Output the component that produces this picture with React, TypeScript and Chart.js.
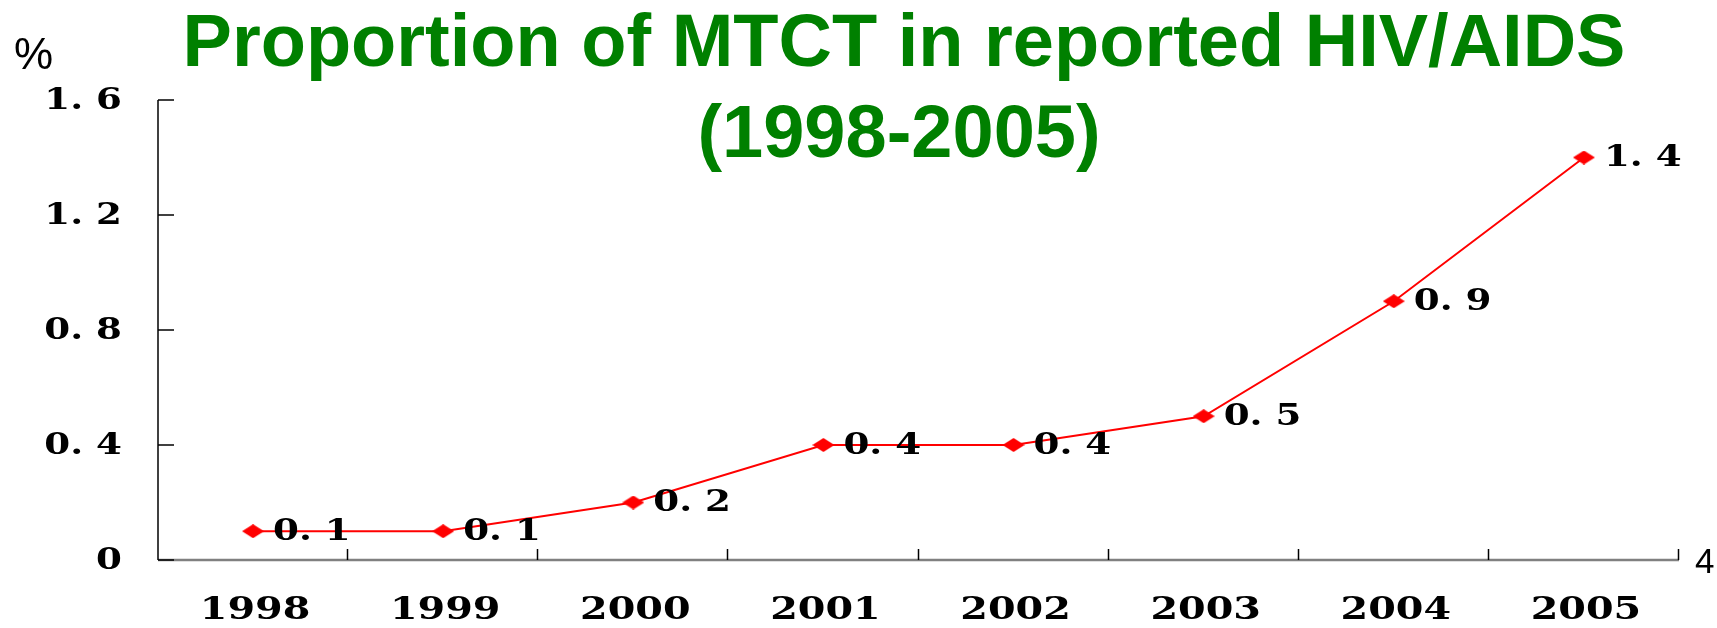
import React, { useEffect, useRef } from "react";
import { Chart, registerables } from "chart.js";

Chart.register(...registerables);

const years = ["1998", "1999", "2000", "2001", "2002", "2003", "2004", "2005"];
const mtctShare = [0.1, 0.1, 0.2, 0.4, 0.4, 0.5, 0.9, 1.4];
const yTickValues = [0, 0.4, 0.8, 1.2, 1.6];
const titleLines = ["Proportion of MTCT in reported HIV/AIDS", "(1998-2005)"];
const unitLabel = "%";
const cornerLabel = "4";

const SERIF = "bold 30px 'DejaVu Serif'";
const SERIF_X = "bold 32px 'DejaVu Serif'";
const STRETCH = 1.24;

function fmt(v: number): string {
  if (v === 0) return "0";
  return v.toFixed(1).replace(".", ". ");
}

function drawWide(
  ctx: CanvasRenderingContext2D,
  text: string,
  x: number,
  y: number,
  align: "left" | "right" | "center",
  font: string
) {
  ctx.save();
  ctx.font = font;
  ctx.textBaseline = "middle";
  ctx.textAlign = "left";
  const w = ctx.measureText(text).width * STRETCH;
  let left = x;
  if (align === "right") left = x - w;
  if (align === "center") left = x - w / 2;
  ctx.translate(left, y);
  ctx.scale(STRETCH, 1);
  ctx.fillStyle = "#000";
  ctx.fillText(text, 0, 0);
  ctx.restore();
}

function makeDiamond(): HTMLCanvasElement {
  const c = document.createElement("canvas");
  c.width = 22;
  c.height = 14;
  const g = c.getContext("2d")!;
  g.fillStyle = "#ff0000";
  g.beginPath();
  g.moveTo(11, 0);
  g.lineTo(22, 7);
  g.lineTo(11, 14);
  g.lineTo(0, 7);
  g.closePath();
  g.fill();
  return c;
}

const decorPlugin = {
  id: "decor",
  beforeDatasetsDraw(chart: any) {
    const { ctx, chartArea: a, scales } = chart;
    const x = scales.x;
    const y = scales.y;
    ctx.save();
    ctx.strokeStyle = "#808080";
    ctx.lineWidth = 2.5;
    ctx.beginPath();
    ctx.moveTo(a.left, a.bottom);
    ctx.lineTo(a.right, a.bottom);
    ctx.stroke();
    const half = (x.getPixelForValue(1) - x.getPixelForValue(0)) / 2;
    ctx.strokeStyle = "#000";
    ctx.lineWidth = 1.5;
    for (let i = 0; i < years.length; i++) {
      const bx = Math.round(x.getPixelForValue(i) + half) - 0.5;
      ctx.beginPath();
      ctx.moveTo(bx, a.bottom - 11);
      ctx.lineTo(bx, a.bottom);
      ctx.stroke();
    }
    ctx.beginPath();
    ctx.moveTo(a.left, a.top);
    ctx.lineTo(a.left, a.bottom);
    ctx.stroke();
    for (const v of yTickValues) {
      const py = y.getPixelForValue(v);
      ctx.beginPath();
      ctx.moveTo(a.left, py);
      ctx.lineTo(a.left + 16, py);
      ctx.stroke();
    }
    ctx.restore();
  },
  afterDatasetsDraw(chart: any) {
    const { ctx, chartArea: a, scales } = chart;
    const x = scales.x;
    const y = scales.y;
    for (const v of yTickValues) {
      drawWide(ctx, fmt(v), a.left - 36, y.getPixelForValue(v) + 1, "right", SERIF);
    }
    years.forEach((lab, i) => {
      drawWide(ctx, lab, x.getPixelForValue(i) + 2, a.bottom + 51, "center", SERIF_X);
    });
    mtctShare.forEach((v, i) => {
      drawWide(ctx, fmt(v), x.getPixelForValue(i) + 20, y.getPixelForValue(v) + 1, "left", SERIF);
    });
    ctx.save();
    ctx.fillStyle = "#008000";
    ctx.font = "bold 74px 'Liberation Sans', Arial, sans-serif";
    ctx.textAlign = "center";
    ctx.textBaseline = "alphabetic";
    ctx.fillText(titleLines[0], 904, 66);
    ctx.fillText(titleLines[1], 899, 157);
    ctx.fillStyle = "#000";
    ctx.textAlign = "left";
    ctx.font = "44px 'Liberation Sans', Arial, sans-serif";
    ctx.fillText(unitLabel, 14, 69);
    ctx.font = "35px 'Liberation Sans', Arial, sans-serif";
    ctx.fillText(cornerLabel, 1695, 573);
    ctx.restore();
  },
};

export default function App() {
  const ref = useRef<HTMLCanvasElement | null>(null);
  useEffect(() => {
    if (!ref.current) return;
    const chart = new Chart(ref.current, {
      type: "line",
      data: {
        labels: years,
        datasets: [
          {
            data: mtctShare,
            borderColor: "#ff0000",
            backgroundColor: "#ff0000",
            borderWidth: 2,
            pointStyle: makeDiamond() as any,
            pointRadius: 11,
            tension: 0,
            fill: false,
          },
        ],
      },
      options: {
        animation: false,
        responsive: false,
        events: [],
        layout: { padding: { left: 158, right: 38, top: 100, bottom: 68 } },
        plugins: {
          legend: { display: false },
          tooltip: { enabled: false },
          title: { display: false },
        },
        scales: {
          x: { type: "category", offset: true, display: false },
          y: { type: "linear", min: 0, max: 1.6, display: false },
        },
      },
      plugins: [decorPlugin],
    });
    return () => chart.destroy();
  }, []);
  return (
    <div style={{ position: "fixed", left: 0, top: 0, width: 1717, height: 628, background: "#fff" }}>
      <canvas ref={ref} width={1717} height={628} style={{ display: "block" }} />
    </div>
  );
}
